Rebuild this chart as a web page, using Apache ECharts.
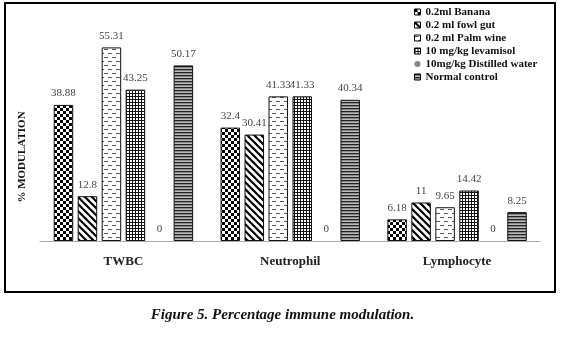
<!DOCTYPE html>
<html><head><meta charset="utf-8">
<script src="https://cdn.jsdelivr.net/npm/echarts@6/dist/echarts.min.js"></script>
<style>html,body{margin:0;padding:0;background:#fff}#c{width:565px;height:343px}</style>
</head><body><div id="c"></div>
<script>
const categories = ['TWBC', 'Neutrophil', 'Lymphocyte'];
const seriesNames = ['0.2ml Banana', '0.2 ml fowl gut', '0.2 ml Palm wine', '10 mg/kg levamisol', '10mg/kg Distilled water', 'Normal control'];
const banana = [38.88, 32.4, 6.18];
const fowlGut = [12.8, 30.41, 11];
const palmWine = [55.31, 41.33, 9.65];
const levamisol = [43.25, 41.33, 14.42];
const distilled = [0, 0, 0];
const normalControl = [50.17, 40.34, 8.25];
const seriesValues = [banana, fowlGut, palmWine, levamisol, distilled, normalControl];

function pat(w, h, draw) {
  const c = document.createElement('canvas');
  c.width = w; c.height = h;
  const g = c.getContext('2d');
  g.fillStyle = '#fff'; g.fillRect(0, 0, w, h);
  draw(g);
  return { image: c, repeat: 'repeat' };
}
const patterns = [
  pat(6, 6, g => { g.fillStyle = '#000'; g.fillRect(0, 0, 3, 3); g.fillRect(3, 3, 3, 3); }),
  pat(7, 7, g => { g.strokeStyle = '#000'; g.lineWidth = 2.2; for (let k = -2; k <= 2; k++) { g.beginPath(); g.moveTo(k * 7 - 1, -1); g.lineTo(k * 7 + 8, 8); g.stroke(); } }),
  pat(8, 8, g => { g.fillStyle = '#555'; g.fillRect(0, 1, 4, 1); g.fillRect(4, 5, 4, 1); }),
  pat(3, 3, g => { g.fillStyle = '#111'; g.fillRect(0, 0, 3, 1); g.fillRect(0, 0, 1, 3); }),
  '#fff',
  pat(3, 3, g => { g.fillStyle = '#222'; g.fillRect(0, 0, 3, 1); g.fillStyle = '#888'; g.fillRect(0, 1, 3, 1); g.fillStyle = '#bbb'; g.fillRect(0, 2, 3, 1); })
];

const serif = 'Liberation Serif';
const chart = echarts.init(document.getElementById('c'), null, { renderer: 'canvas' });
chart.setOption({
  animation: false,
  backgroundColor: '#fff',
  grid: { left: 40, right: 24.5, top: 31, bottom: 102 },
  title: {
    text: 'Figure 5. Percentage immune modulation.',
    left: 'center', top: 303,
    textStyle: { fontFamily: serif, fontSize: 15, fontWeight: 'bold', fontStyle: 'italic', color: '#111' }
  },
  legend: {
    orient: 'vertical', left: 409, top: 1, itemGap: 1,
    itemWidth: 6, itemHeight: 6, itemStyle: { borderColor: '#000', borderWidth: 1 },
    textStyle: { fontFamily: serif, fontSize: 11, lineHeight: 12, fontWeight: 'bold', color: '#111' },
    data: seriesNames.map((n, i) => i === 4 ? { name: n, icon: 'circle', itemStyle: { color: '#888', borderWidth: 0 } } : { name: n, icon: 'rect' })
  },
  xAxis: {
    type: 'category', data: categories,
    axisLine: { lineStyle: { color: '#aaa', width: 1 } },
    axisTick: { show: false },
    axisLabel: { margin: 14, fontFamily: serif, fontSize: 13, fontWeight: 'bold', color: '#222' }
  },
  yAxis: {
    type: 'value', min: 0, max: 60, interval: 10,
    axisLine: { show: false }, axisTick: { show: false }, axisLabel: { show: false }, splitLine: { show: false }
  },
  graphic: [
    { type: 'rect', shape: { x: 5, y: 3, width: 550, height: 289 }, style: { fill: 'none', stroke: '#000', lineWidth: 2 }, z: 100 },
    { type: 'text', x: 22, y: 157, rotation: Math.PI / 2, style: { text: '% MODULATION', fontFamily: serif, fontSize: 11, fontWeight: 'bold', fill: '#111', align: 'center', verticalAlign: 'middle' } }
  ],
  series: seriesValues.map((vals, i) => ({
    name: seriesNames[i], type: 'bar', data: vals,
    barWidth: 19.5, barGap: '23%',
    itemStyle: { color: patterns[i], borderColor: '#111', borderWidth: i === 4 ? 0 : 1 },
    label: { show: true, position: 'top', distance: 6, fontFamily: serif, fontSize: 11, color: '#444' }
  }))
});
</script></body></html>
